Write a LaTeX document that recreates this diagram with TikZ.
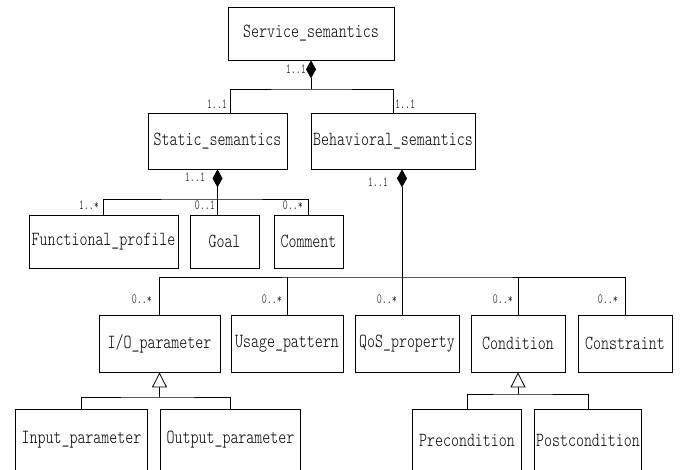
\documentclass[tikz,border=0pt]{standalone}
\usepackage{fontspec}
\setmainfont{lmmonolt10-regular.otf}[FakeStretch=0.76]
\newfontfamily\multfont{lmmonolt10-regular.otf}[FakeStretch=0.68]
\usetikzlibrary{arrows.meta}

\tikzset{
  cls/.style={draw, line width=0.8pt, inner sep=0pt, font=\fontsize{20}{20}\selectfont},
  mult/.style={inner sep=1pt, font=\multfont\fontsize{14}{14}\selectfont},
  assoc/.style={line width=0.8pt},
  compos/.style={assoc, {Diamond[length=18pt,width=10pt]}-},
  generl/.style={assoc, {Triangle[open,length=15pt,width=15pt]}-}
}

% class box cut off by the lower border
\newcommand{\cutclass}[4]{
\node [cls, draw=none, minimum width=#3, minimum height=60pt] (#1) at (#2) {#4};
\draw [assoc] (#1.south west) -- (#1.north west) -- (#1.north east) -- (#1.south east);
}

\begin{document}
\begin{tikzpicture}[x=1pt,y=-1pt]
\fill [white] (0,0) rectangle (687,470);
\useasboundingbox (0,0) rectangle (687,470);

\node [cls, minimum width=166pt, minimum height=53pt] (serv) at (311,33.5) {Service\_semantics};
\node [cls, minimum width=139pt, minimum height=56pt] (stat) at (217.5,141) {Static\_semantics};
\node [cls, minimum width=164pt, minimum height=56pt] (beh) at (393,141) {Behavioral\_semantics};

\node [cls, minimum width=149pt, minimum height=53pt] (func) at (103.5,241.5) {Functional\_profile};
\node [cls, minimum width=69pt, minimum height=53pt] (goal) at (224.5,241.5) {Goal};
\node [cls, minimum width=69pt, minimum height=53pt] (comm) at (308.5,241.5) {Comment};

\node [cls, minimum width=121pt, minimum height=57pt] (io) at (159.5,343.5) {I/O\_parameter};
\node [cls, minimum width=112pt, minimum height=57pt] (usage) at (287,343.5) {Usage\_pattern};
\node [cls, minimum width=104pt, minimum height=57pt] (qos) at (407,343.5) {QoS\_property};
\node [cls, minimum width=94pt, minimum height=57pt] (cond) at (518,343.5) {Condition};
\node [cls, minimum width=94pt, minimum height=57pt] (cons) at (625,343.5) {Constraint};

\cutclass{inp}{81.5,440}{131pt}{Input\_parameter}
\cutclass{outp}{230.5,440}{139pt}{Output\_parameter}
\cutclass{pre}{467,440}{108pt}{Precondition}
\cutclass{post}{588,440}{106pt}{Postcondition}

\coordinate (j1) at (311,89);
\coordinate (j2) at (217.5,199);
\coordinate (j3) at (402,277);
\coordinate (j4) at (159.5,397);
\coordinate (j5) at (518,394);

\draw [compos] (serv.south) -- (j1);
\draw [assoc] ([xshift=12.5pt]stat.north) |- (j1) -| (beh.north);

\draw [compos] (stat.south) -- (j2);
\draw [assoc] (func.north) |- (j2) -| (comm.north);
\draw [assoc] (j2) -- (j2 |- goal.north);

\draw [compos] ([xshift=9pt]beh.south) -- ([xshift=-5pt]qos.north);
\draw [assoc] (io.north) |- (j3) -| (cons.north);
\draw [assoc] (usage.north) -- (usage.north |- j3);
\draw [assoc] (cond.north) -- (cond.north |- j3);

\draw [generl] (io.south) -- (j4);
\draw [assoc] (inp.north) |- (j4) -| (outp.north);
\draw [generl] (cond.south) -- (j5);
\draw [assoc] (pre.north) |- (j5) -| (post.north);

\node [mult, anchor=east] (m1) at (307,69) {1..1};
\node [mult, anchor=east] (m2) at (228,104) {1..1};
\node [mult, anchor=west] (m3) at (394,104) {1..1};
\node [mult, anchor=east] (m4) at (206,177) {1..1};
\node [mult, anchor=east] (m5) at (100,205) {1..*};
\node [mult, anchor=east] (m6) at (216,205) {0..1};
\node [mult, anchor=east] (m7) at (304,205) {0..*};
\node [mult, anchor=east] (m8) at (389,182) {1..1};
\node [mult, anchor=east] (m9) at (153,299) {0..*};
\node [mult, anchor=east] (m10) at (283,299) {0..*};
\node [mult, anchor=east] (m11) at (398,299) {0..*};
\node [mult, anchor=east] (m12) at (514,299) {0..*};
\node [mult, anchor=east] (m13) at (619,299) {0..*};
\end{tikzpicture}
\end{document}
